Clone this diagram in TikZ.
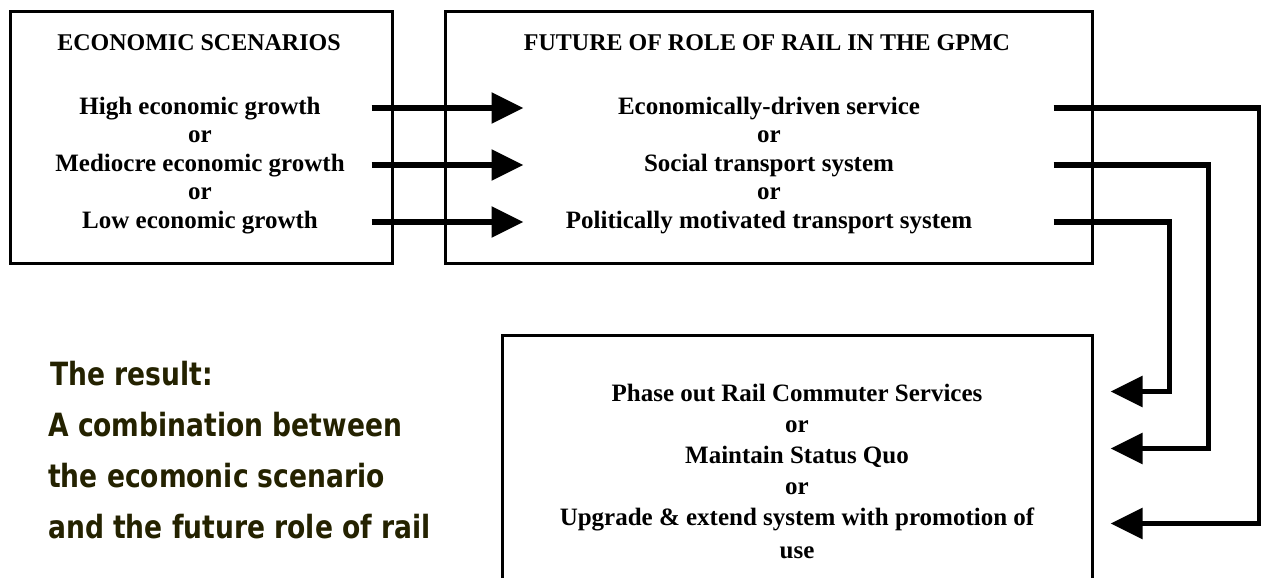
\documentclass[tikz,border=0pt]{standalone}
\usepackage{fontspec}
\setmainfont{Liberation Serif}
\newfontfamily\notefont{DejaVu Sans}[FakeStretch=0.83]
\usetikzlibrary{arrows.meta,calc}
\definecolor{noteink}{HTML}{242200}
\begin{document}
\begin{tikzpicture}[x=1pt,y=-1pt,
  panel/.style={draw,line width=3pt,line join=miter,inner sep=0pt},
  head/.style={font=\fontsize{24}{28}\selectfont\bfseries,anchor=center},
  item/.style={font=\fontsize{25}{28.5}\selectfont\bfseries,anchor=center,
    text height=17pt,text depth=5pt,inner sep=0pt},
  conn/.style={line width=5.5pt,line join=miter,
    -{Triangle[length=32pt,width=30pt]}},
  note/.style={font=\notefont\fontsize{32}{51}\selectfont\bfseries,
    text=noteink,anchor=base west,inner sep=0pt}]
\useasboundingbox (0,0) rectangle (1261,578);
\clip (0,0) rectangle (1261,578);

% economic scenarios
\node[panel,minimum width=382pt,minimum height=251pt] (box1) at (201,137.5) {};
\node[head] (h1) at (199,43) {ECONOMIC SCENARIOS};
\node[item] (hi)  at (200,108)   {High economic growth};
\node[item] (or1) at (200,136.5) {or};
\node[item] (mid) at (200,165)   {Mediocre economic growth};
\node[item] (or2) at (200,193.5) {or};
\node[item] (low) at (200,222)   {Low economic growth};

% role of rail
\node[panel,minimum width=647pt,minimum height=251pt] (box2) at (768.5,137.5) {};
\node[head] (h2) at (767,43) {FUTURE OF ROLE OF RAIL IN THE GPMC};
\node[item] (econ) at (769,108)   {Economically-driven service};
\node[item] (or3)  at (769,136.5) {or};
\node[item] (soc)  at (769,165)   {Social transport system};
\node[item] (or4)  at (769,193.5) {or};
\node[item] (pol)  at (769,222)   {Politically motivated transport system};

% outcomes
\node[panel,minimum width=590pt,minimum height=280pt] (box3) at (797,475) {};
\node[item] (phase) at (797,395) {Phase out Rail Commuter Services};
\node[item] (or5)   at (797,426) {or};
\node[item] (keep)  at (797,457) {Maintain Status Quo};
\node[item] (or6)   at (797,488) {or};
\node[item,align=center,font=\fontsize{25}{33}\selectfont\bfseries,
  text height=,text depth=] (upg) at (797,533)
  {Upgrade \& extend system with promotion of\\use};

% scenario -> role
\draw[conn] ($(box1.east |- hi)+(-22,0)$)  -- ($(box2.west |- econ)+(80,0)$);
\draw[conn] ($(box1.east |- mid)+(-22,0)$) -- ($(box2.west |- soc)+(80,0)$);
\draw[conn] ($(box1.east |- low)+(-22,0)$) -- ($(box2.west |- pol)+(80,0)$);

% role -> outcome
\draw[conn] ($(box2.east |- econ)+(-40,0)$) -| ($(box3.north east)+(166,190)$)
  -- ($(box3.north east)+(17,190)$);
\draw[conn] ($(box2.east |- soc)+(-40,0)$) -| ($(box3.north east)+(115,115)$)
  -- ($(box3.north east)+(17,115)$);
\draw[conn] ($(box2.east |- pol)+(-40,0)$) -| ($(box3.north east)+(76,58)$)
  -- ($(box3.north east)+(17,58)$);

% summary note
\node[note] (res1) at (50,385) {The result:};
\node[note] (res2) at (48,436) {A combination between};
\node[note] (res3) at (48,487) {the ecomonic scenario};
\node[note] (res4) at (48,538) {and the future role of rail};
\end{tikzpicture}
\end{document}
